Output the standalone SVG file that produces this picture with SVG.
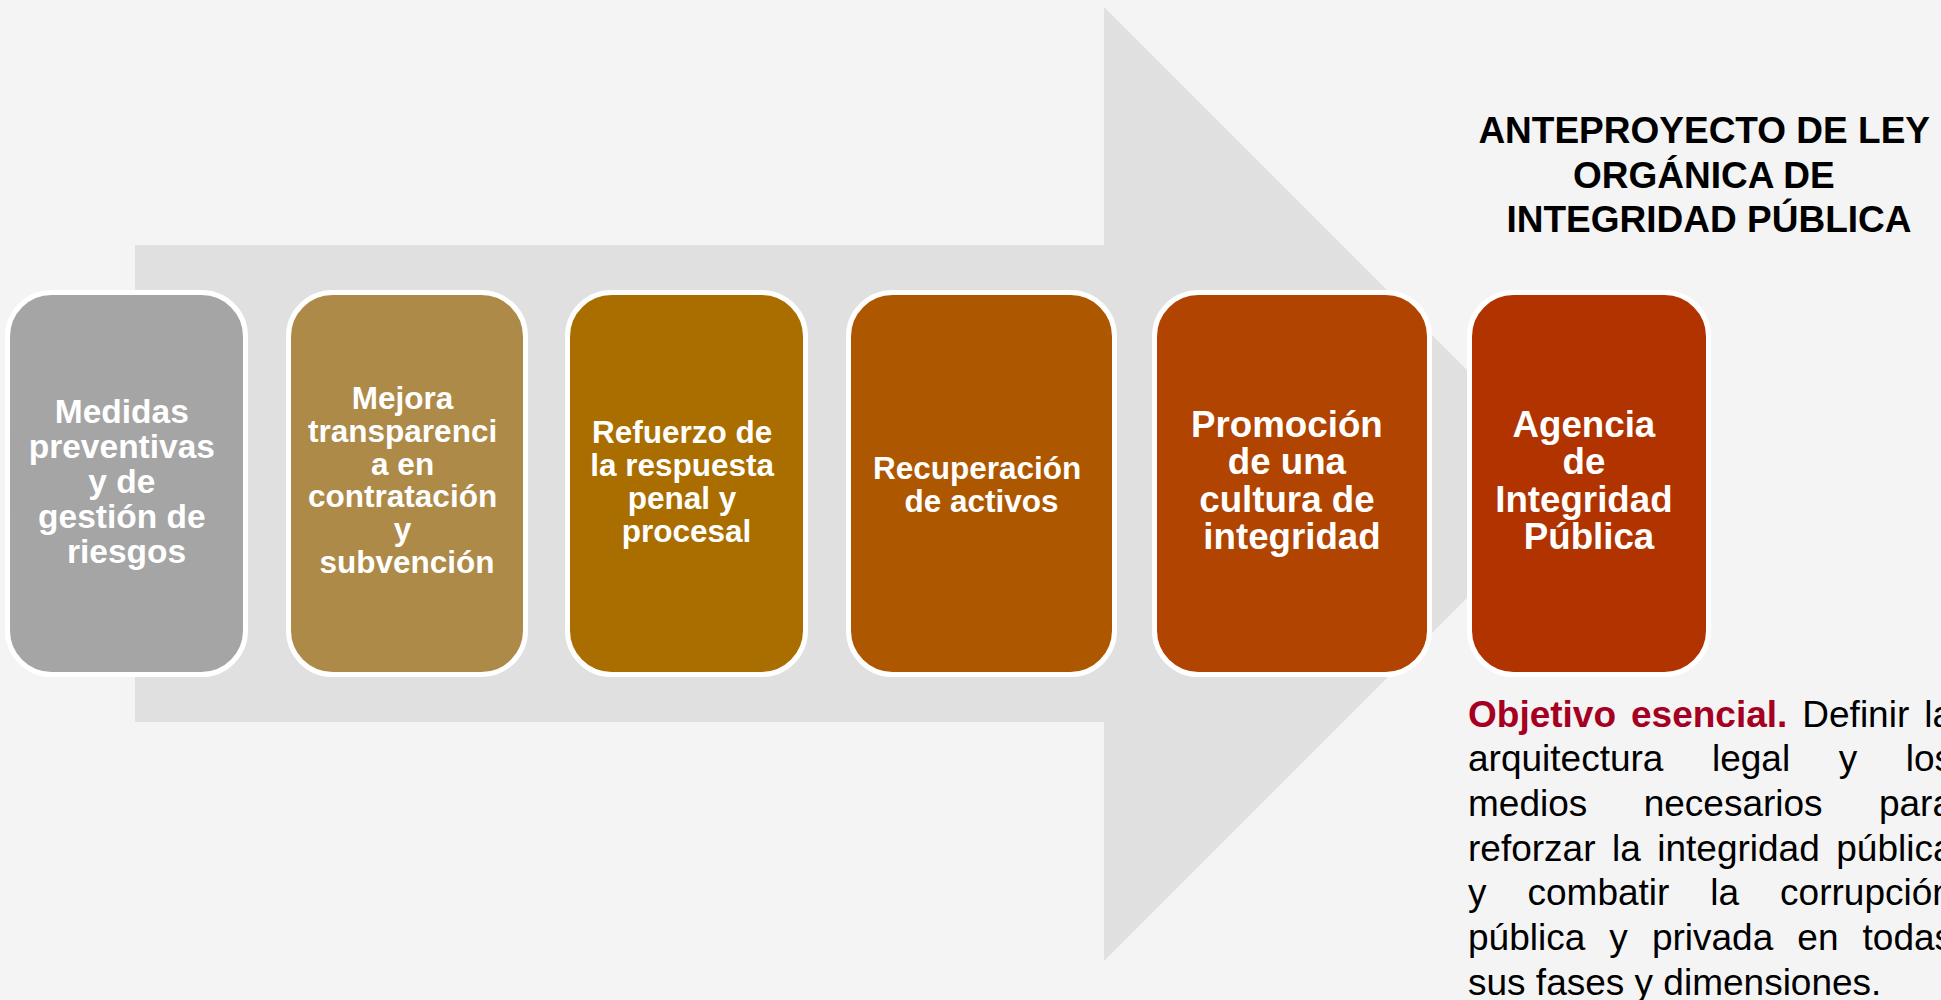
<svg xmlns="http://www.w3.org/2000/svg" width="1941" height="1000" viewBox="0 0 1941 1000">
<style>
.box{stroke:#ffffff;stroke-width:5}
.lbl{font-family:"Liberation Sans",Arial,sans-serif;font-weight:bold;fill:#ffffff;text-anchor:middle}
.title{font-family:"Liberation Sans",Arial,sans-serif;font-weight:bold;font-size:37px;fill:#000000;text-anchor:middle}
.para{font-family:"Liberation Sans",Arial,sans-serif;font-size:37px;fill:#000000}
.red{font-weight:bold;fill:#a50021}
</style>
<rect x="0" y="0" width="1941" height="1000" fill="#f4f4f4"/>
<g id="connectors">
<polygon id="big-arrow" points="135,245 1104,245 1104,7 1581,484 1104,961 1104,722 135,722" fill="#e0e0e0"/>
</g>
<g id="node1">
<rect class="box" x="7.5" y="292.5" width="238" height="382" rx="44" fill="#a5a5a5"/>
<text class="lbl" font-size="33.5" x="126.5">
<tspan x="126.5" y="423">Medidas</tspan>
<tspan x="126.5" y="458">preventivas</tspan>
<tspan x="126.5" y="493">y de</tspan>
<tspan x="126.5" y="528">gestión de</tspan>
<tspan x="126.5" y="563">riesgos</tspan>
</text>
</g>
<g id="node2">
<rect class="box" x="288.5" y="292.5" width="237" height="382" rx="44" fill="#ae8a48"/>
<text class="lbl" font-size="31.5">
<tspan x="407" y="409">Mejora</tspan>
<tspan x="407" y="442">transparenci</tspan>
<tspan x="407" y="475">a en</tspan>
<tspan x="407" y="507">contratación</tspan>
<tspan x="407" y="540">y</tspan>
<tspan x="407" y="573">subvención</tspan>
</text>
</g>
<g id="node3">
<rect class="box" x="567.5" y="292.5" width="238" height="382" rx="44" fill="#aa6e00"/>
<text class="lbl" font-size="31.5">
<tspan x="686.5" y="443">Refuerzo de</tspan>
<tspan x="686.5" y="476">la respuesta</tspan>
<tspan x="686.5" y="509">penal y</tspan>
<tspan x="686.5" y="542">procesal</tspan>
</text>
</g>
<g id="node4">
<rect class="box" x="848.5" y="292.5" width="266" height="382" rx="44" fill="#ad5700"/>
<text class="lbl" font-size="31.5">
<tspan x="981.5" y="479">Recuperación</tspan>
<tspan x="981.5" y="512">de activos</tspan>
</text>
</g>
<g id="node5">
<rect class="box" x="1154.5" y="292.5" width="275" height="382" rx="44" fill="#b04400"/>
<text class="lbl" font-size="36.7">
<tspan x="1292" y="437">Promoción</tspan>
<tspan x="1292" y="474">de una</tspan>
<tspan x="1292" y="512">cultura de</tspan>
<tspan x="1292" y="549">integridad</tspan>
</text>
</g>
<g id="node6">
<rect class="box" x="1469.5" y="292.5" width="239" height="382" rx="44" fill="#b03300"/>
<text class="lbl" font-size="36.7">
<tspan x="1589" y="437">Agencia</tspan>
<tspan x="1589" y="474">de</tspan>
<tspan x="1589" y="512">Integridad</tspan>
<tspan x="1589" y="549">Pública</tspan>
</text>
</g>
<g id="title">
<text class="title">
<tspan x="1709" y="143">ANTEPROYECTO DE LEY</tspan>
<tspan x="1709" y="187.5">ORGÁNICA DE</tspan>
<tspan x="1709" y="232">INTEGRIDAD PÚBLICA</tspan>
</text>
</g>
<g id="objective">
<text class="para" x="1468" y="726.5" word-spacing="4.7"><tspan class="red">Objetivo esencial.</tspan> Definir la</text>
<text class="para" x="1468" y="771.2" word-spacing="38.3">arquitectura legal y los</text>
<text class="para" x="1468" y="815.9" word-spacing="46.1">medios necesarios para</text>
<text class="para" x="1468" y="860.6" word-spacing="6.2">reforzar la integridad pública</text>
<text class="para" x="1468" y="905.3" word-spacing="30.7">y combatir la corrupción</text>
<text class="para" x="1468" y="950" word-spacing="13.8">pública y privada en todas</text>
<text class="para" x="1468" y="994.7">sus fases y dimensiones.</text>
</g>
</svg>
